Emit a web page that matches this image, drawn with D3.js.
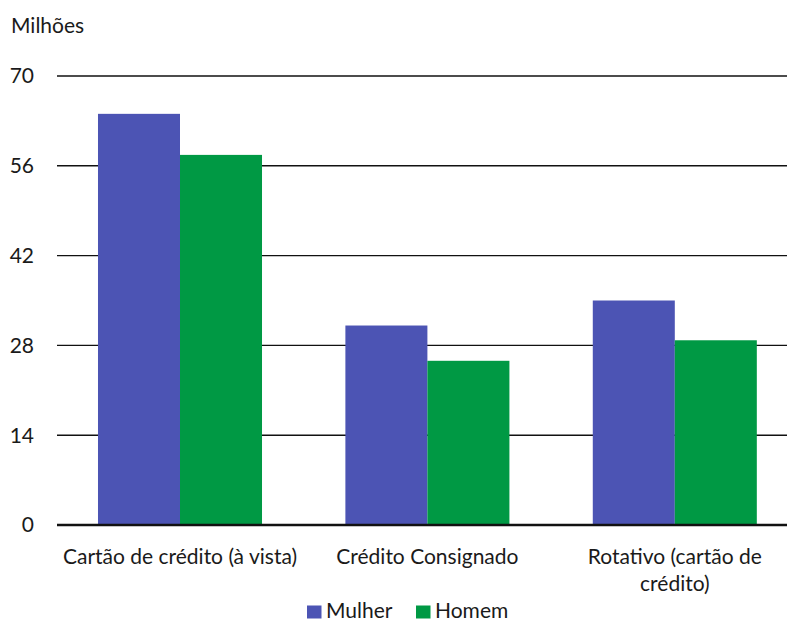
<!DOCTYPE html>
<html>
<head>
<meta charset="utf-8">
<script src="https://cdn.jsdelivr.net/npm/d3@7"></script>
<style>
  html, body { margin: 0; padding: 0; background: #fff; }
  svg { display: block; font-family: Lato, "Noto Sans", sans-serif; }
</style>
</head>
<body>
<svg id="chart" width="787" height="621"></svg>
<script>
// Número de pessoas por modalidade de crédito, em milhões
const categories = [["Cartão de crédito (à vista)"], ["Crédito Consignado"], ["Rotativo (cartão de", "crédito)"]];
const seriesNames = ["Mulher", "Homem"];
const mulher = [64.1, 31.1, 35.0];
const homem = [57.7, 25.6, 28.8];
const yTicks = [0, 14, 28, 42, 56, 70];
const colors = ["#4c54b4", "#009944"];

const svg = d3.select("#chart");
const W = 787;
const fs = 21;

const x = d3.scaleBand()
  .domain(d3.range(categories.length))
  .range([56.3, 798.5])
  .paddingInner(0.337)
  .paddingOuter(0.1685);
const xs = d3.scaleBand().domain(seriesNames).range([0, x.bandwidth()]);
const y = d3.scaleLinear().domain([0, 70]).range([525, 76]);

// gridlines
svg.append("g").selectAll("line").data(yTicks.filter(d => d > 0)).join("line")
  .attr("x1", 57).attr("x2", W)
  .attr("y1", d => y(d)).attr("y2", d => y(d))
  .attr("stroke", "#111").attr("stroke-width", 1.4);

// y tick labels
svg.append("g").selectAll("text").data(yTicks).join("text")
  .attr("x", 34).attr("y", d => y(d)).attr("dy", "0.35em")
  .attr("text-anchor", "end").attr("font-size", fs).attr("fill", "#1a1a1a")
  .text(d => d);

svg.append("text").attr("x", 11).attr("y", 33)
  .attr("font-size", fs).attr("fill", "#1a1a1a").text("Milhões");

// bars
const values = [mulher, homem];
const g = svg.append("g");
seriesNames.forEach((s, si) => {
  g.selectAll(null).data(values[si]).join("rect")
    .attr("x", (d, i) => x(i) + xs(s))
    .attr("width", xs.bandwidth())
    .attr("y", d => y(d))
    .attr("height", d => y(0) - y(d))
    .attr("fill", colors[si]);
});

// baseline
svg.append("line").attr("x1", 57).attr("x2", W)
  .attr("y1", y(0)).attr("y2", y(0))
  .attr("stroke", "#111").attr("stroke-width", 2.4);

// category labels
const cat = svg.append("g").selectAll("text").data(categories).join("text")
  .attr("text-anchor", "middle").attr("font-size", fs).attr("fill", "#1a1a1a")
  .attr("transform", (d, i) => `translate(${x(i) + x.bandwidth() / 2},564)`);
cat.selectAll("tspan").data(d => d).join("tspan")
  .attr("x", 0).attr("y", (d, i) => i * 27).text(d => d);

// legend
const legendX = [307, 416];
const lg = svg.append("g").selectAll("g").data(seriesNames).join("g")
  .attr("transform", (d, i) => `translate(${legendX[i]},0)`);
lg.append("rect").attr("x", 0).attr("y", 605.5).attr("width", 14.5).attr("height", 13)
  .attr("fill", (d, i) => colors[i]);
lg.append("text").attr("x", 19).attr("y", 617.5).attr("font-size", fs).attr("fill", "#1a1a1a")
  .text(d => d);
</script>
</body>
</html>
